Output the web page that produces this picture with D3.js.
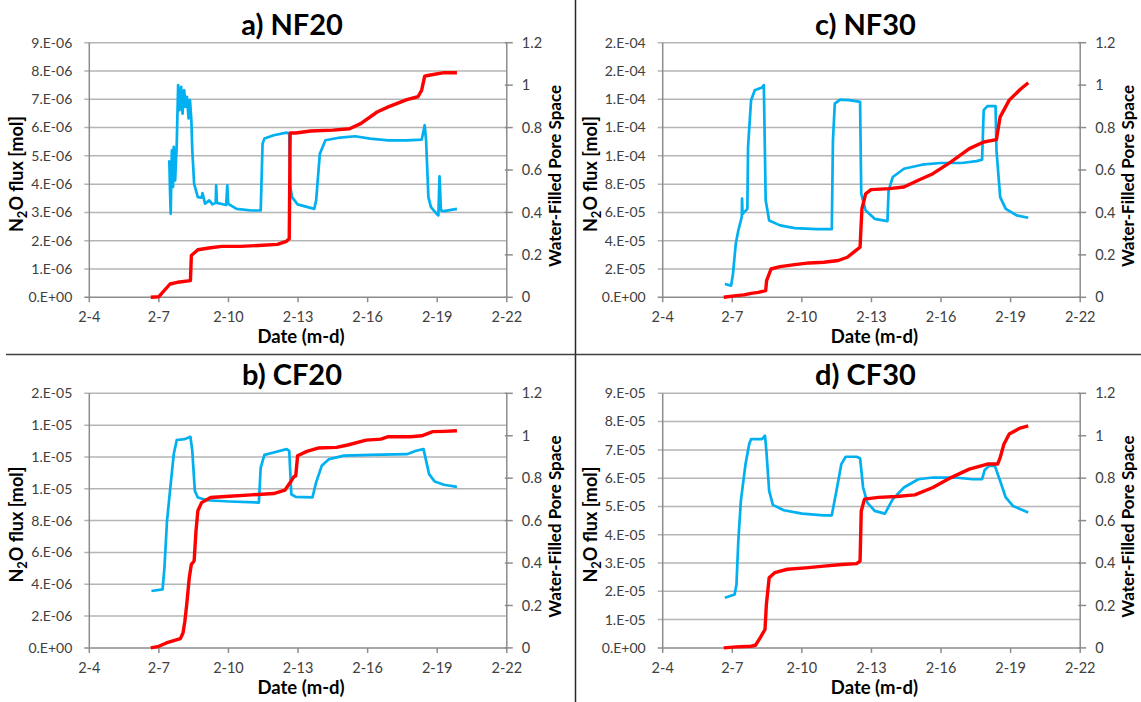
<!DOCTYPE html>
<html>
<head>
<meta charset="utf-8">
<script src="https://cdn.jsdelivr.net/npm/d3@7"></script>
<style>
  body { margin: 0; background: #fff; }
  text { font-family: Lato, "Open Sans", sans-serif; }
</style>
</head>
<body>
<div id="chart"></div>
<script>
// days are day-of-February (2-7 = 7), flux in mol, WFPS as fraction
const nf20Flux = [[6.65,0],[7.00,0.02e-6],[7.48,0.47e-6],[7.80,0.53e-6],[8.36,0.59e-6],[8.40,1.48e-6],[8.68,1.68e-6],[9.23,1.75e-6],[9.71,1.80e-6],[10.51,1.80e-6],[11.31,1.83e-6],[12.11,1.87e-6],[12.50,1.98e-6],[12.62,2.07e-6],[12.66,5.81e-6],[12.90,5.81e-6],[13.54,5.88e-6],[14.50,5.91e-6],[15.22,5.96e-6],[15.70,6.14e-6],[16.41,6.55e-6],[16.89,6.73e-6],[17.69,6.99e-6],[18.17,7.09e-6],[18.33,7.32e-6],[18.46,7.82e-6],[18.65,7.85e-6],[19.29,7.94e-6],[19.85,7.94e-6]];
const nf20Wfps = [[7.45,0.646],[7.48,0.504],[7.51,0.394],[7.56,0.693],[7.61,0.520],[7.64,0.709],[7.70,0.551],[7.77,0.724],[7.83,1.000],[7.89,0.882],[7.96,0.992],[8.02,0.866],[8.09,0.976],[8.15,0.898],[8.21,0.945],[8.28,0.843],[8.34,0.929],[8.40,0.835],[8.44,0.693],[8.52,0.535],[8.68,0.472],[8.85,0.470],[8.88,0.491],[8.99,0.441],[9.17,0.457],[9.31,0.438],[9.45,0.445],[9.47,0.528],[9.50,0.445],[9.90,0.435],[9.95,0.528],[9.99,0.440],[10.35,0.417],[10.99,0.409],[11.39,0.409],[11.47,0.724],[11.55,0.748],[11.95,0.764],[12.50,0.776],[12.62,0.772],[12.67,0.520],[12.74,0.472],[12.98,0.438],[13.70,0.417],[13.78,0.457],[13.94,0.677],[14.18,0.740],[14.82,0.753],[15.46,0.759],[16.10,0.748],[16.89,0.740],[17.69,0.740],[18.33,0.743],[18.46,0.811],[18.52,0.740],[18.62,0.472],[18.73,0.425],[18.97,0.394],[19.05,0.386],[19.10,0.570],[19.16,0.409],[19.29,0.406],[19.85,0.417]];

const cf20Flux = [[6.65,0],[7.00,0.10e-6],[7.32,0.31e-6],[7.64,0.46e-6],[7.93,0.59e-6],[8.04,0.94e-6],[8.12,1.68e-6],[8.20,2.73e-6],[8.31,4.41e-6],[8.40,5.25e-6],[8.52,5.46e-6],[8.60,7.35e-6],[8.68,8.61e-6],[8.84,9.13e-6],[9.23,9.45e-6],[10.03,9.53e-6],[10.99,9.62e-6],[11.95,9.70e-6],[12.43,9.91e-6],[12.66,10.39e-6],[12.82,10.75e-6],[12.90,10.81e-6],[12.98,12.07e-6],[13.38,12.35e-6],[13.86,12.56e-6],[14.66,12.60e-6],[15.14,12.75e-6],[15.94,13.06e-6],[16.57,13.12e-6],[16.89,13.27e-6],[17.85,13.27e-6],[18.33,13.33e-6],[18.81,13.59e-6],[19.29,13.61e-6],[19.85,13.65e-6]];
const cf20Wfps = [[6.68,0.268],[7.16,0.276],[7.24,0.378],[7.35,0.598],[7.48,0.740],[7.64,0.913],[7.77,0.980],[8.12,0.984],[8.36,0.995],[8.44,0.929],[8.55,0.740],[8.68,0.709],[9.07,0.696],[10.03,0.690],[11.31,0.685],[11.39,0.850],[11.55,0.910],[11.95,0.921],[12.51,0.937],[12.62,0.929],[12.71,0.724],[12.90,0.712],[13.62,0.709],[13.78,0.780],[14.02,0.858],[14.34,0.890],[14.98,0.906],[16.10,0.910],[17.69,0.913],[18.09,0.929],[18.41,0.937],[18.65,0.819],[18.89,0.784],[19.29,0.769],[19.85,0.759]];

const nf30Flux = [[6.63,0],[7.18,1.2e-6],[7.50,1.7e-6],[7.81,2.8e-6],[8.12,3.5e-6],[8.44,4.7e-6],[8.48,11.8e-6],[8.67,20.0e-6],[9.06,21.7e-6],[9.69,23.1e-6],[10.32,24.3e-6],[10.95,24.8e-6],[11.57,26.0e-6],[11.96,28.3e-6],[12.36,33.5e-6],[12.51,35.4e-6],[12.55,49.6e-6],[12.59,62.6e-6],[12.75,73.2e-6],[12.98,76.1e-6],[13.77,76.8e-6],[14.40,78.0e-6],[15.02,82.7e-6],[15.65,87.4e-6],[16.43,95.7e-6],[17.22,105.1e-6],[17.84,109.8e-6],[18.39,111.5e-6],[18.44,116.9e-6],[18.55,127.6e-6],[18.94,139.4e-6],[19.41,146.9e-6],[19.76,151.7e-6]];
const nf30Wfps = [[6.68,0.063],[6.95,0.055],[7.03,0.110],[7.15,0.252],[7.26,0.315],[7.37,0.362],[7.41,0.380],[7.42,0.465],[7.44,0.400],[7.46,0.394],[7.65,0.417],[7.68,0.709],[7.81,0.929],[7.97,0.976],[8.28,0.989],[8.36,1.000],[8.44,0.457],[8.59,0.362],[9.06,0.339],[9.69,0.326],[10.63,0.321],[11.29,0.321],[11.34,0.740],[11.42,0.913],[11.65,0.932],[12.04,0.929],[12.51,0.921],[12.56,0.488],[12.75,0.409],[13.14,0.370],[13.69,0.359],[13.74,0.504],[13.92,0.567],[14.40,0.606],[15.18,0.625],[15.96,0.633],[16.90,0.633],[17.53,0.642],[17.77,0.649],[17.84,0.882],[18.00,0.901],[18.35,0.901],[18.39,0.693],[18.55,0.472],[18.79,0.417],[19.26,0.386],[19.76,0.375]];

const cf30Flux = [[6.63,0],[7.18,0.35e-6],[7.81,0.59e-6],[8.00,0.94e-6],[8.20,3.54e-6],[8.41,6.5e-6],[8.47,15.35e-6],[8.59,24.8e-6],[8.83,26.6e-6],[9.38,27.8e-6],[10.16,28.3e-6],[10.95,28.9e-6],[11.73,29.5e-6],[12.36,29.8e-6],[12.51,30.7e-6],[12.56,48.4e-6],[12.70,52.6e-6],[13.30,53.2e-6],[14.08,53.5e-6],[14.87,54.1e-6],[15.65,56.7e-6],[16.43,60.2e-6],[17.22,63.2e-6],[18.00,65.0e-6],[18.44,65.0e-6],[18.55,67.3e-6],[18.71,72.0e-6],[18.94,75.6e-6],[19.41,77.7e-6],[19.76,78.5e-6]];
const cf30Wfps = [[6.68,0.236],[7.10,0.252],[7.18,0.299],[7.26,0.504],[7.37,0.693],[7.57,0.866],[7.73,0.961],[7.81,0.984],[8.28,0.984],[8.41,1.000],[8.47,0.929],[8.59,0.740],[8.75,0.674],[9.22,0.649],[10.01,0.633],[10.95,0.625],[11.29,0.625],[11.49,0.740],[11.70,0.866],[11.89,0.901],[12.36,0.901],[12.51,0.894],[12.64,0.756],[12.82,0.685],[13.14,0.646],[13.58,0.633],[13.92,0.701],[14.40,0.756],[15.02,0.795],[15.65,0.803],[16.59,0.803],[17.37,0.795],[17.77,0.795],[17.88,0.838],[18.08,0.858],[18.32,0.858],[18.55,0.787],[18.79,0.709],[19.10,0.669],[19.76,0.638]];

const dayTicks = [4, 7, 10, 13, 16, 19, 22];
const wfpsTicks = [0, 0.2, 0.4, 0.6, 0.8, 1, 1.2];
const nf20Ticks = [0, 1e-6, 2e-6, 3e-6, 4e-6, 5e-6, 6e-6, 7e-6, 8e-6, 9e-6];
const cf20Ticks = [0, 2e-6, 4e-6, 6e-6, 8e-6, 1e-5, 1.2e-5, 1.4e-5, 1.6e-5];
const nf30Ticks = [0, 2e-5, 4e-5, 6e-5, 8e-5, 1e-4, 1.2e-4, 1.4e-4, 1.6e-4, 1.8e-4];
const cf30Ticks = [0, 1e-5, 2e-5, 3e-5, 4e-5, 5e-5, 6e-5, 7e-5, 8e-5, 9e-5];

const width = 1141, height = 702;
const W = 417.5, H = 254.6;

const panels = [
  { title: 'a) NF20', x: 89.3, y: 42.7, flux: nf20Flux, wfps: nf20Wfps, ticks: nf20Ticks },
  { title: 'c) NF30', x: 662.7, y: 42.7, flux: nf30Flux, wfps: nf30Wfps, ticks: nf30Ticks },
  { title: 'b) CF20', x: 89.3, y: 393.3, flux: cf20Flux, wfps: cf20Wfps, ticks: cf20Ticks },
  { title: 'd) CF30', x: 662.7, y: 393.3, flux: cf30Flux, wfps: cf30Wfps, ticks: cf30Ticks }
];

// Excel-style "0.E+00" number format
function fmtE(v) {
  if (v === 0) return '0.E+00';
  let e = Math.floor(Math.log10(v) + 1e-9);
  let m = Math.round(v / Math.pow(10, e));
  if (m === 10) { m = 1; e++; }
  return m + '.E' + (e < 0 ? '-' : '+') + String(Math.abs(e)).padStart(2, '0');
}

const svg = d3.select('#chart')
  .append('svg')
  .attr('width', width)
  .attr('height', height);

// panel separators
svg.append('line')
  .attr('x1', 575.5).attr('x2', 575.5).attr('y1', 0).attr('y2', height)
  .attr('stroke', '#262626').attr('stroke-width', 1.5);
svg.append('line')
  .attr('x1', 6).attr('x2', 1141).attr('y1', 354.5).attr('y2', 354.5)
  .attr('stroke', '#404040').attr('stroke-width', 1.5);

const gridColor = '#b5b5b5';
const axisColor = '#8c8c8c';
const tickText = '#404040';

panels.forEach(p => {
  const g = svg.append('g');
  const x = d3.scaleLinear().domain([4, 22]).range([p.x, p.x + W]);
  const yL = d3.scaleLinear().domain([0, d3.max(p.ticks)]).range([p.y + H, p.y]);
  const yR = d3.scaleLinear().domain([0, 1.2]).range([p.y + H, p.y]);

  // gridlines and left ticks
  g.selectAll('.grid').data(p.ticks).enter().append('line')
    .attr('x1', p.x - 5).attr('x2', p.x + W)
    .attr('y1', d => yL(d)).attr('y2', d => yL(d))
    .attr('stroke', (d, i) => i === 0 ? axisColor : gridColor)
    .attr('stroke-width', 1.5);

  g.selectAll('.ltxt').data(p.ticks).enter().append('text')
    .attr('x', p.x - 17).attr('y', d => yL(d)).attr('dy', '0.35em')
    .attr('text-anchor', 'end').attr('font-size', 14).attr('fill', tickText)
    .text(fmtE);

  // axis lines
  g.append('line').attr('x1', p.x).attr('x2', p.x).attr('y1', p.y).attr('y2', p.y + H)
    .attr('stroke', axisColor).attr('stroke-width', 1.5);
  g.append('line').attr('x1', p.x + W).attr('x2', p.x + W).attr('y1', p.y).attr('y2', p.y + H)
    .attr('stroke', axisColor).attr('stroke-width', 1.5);

  // x ticks
  g.selectAll('.xt').data(dayTicks).enter().append('line')
    .attr('x1', d => x(d)).attr('x2', d => x(d))
    .attr('y1', p.y + H).attr('y2', p.y + H + 5)
    .attr('stroke', axisColor).attr('stroke-width', 1.5);
  g.selectAll('.xtxt').data(dayTicks).enter().append('text')
    .attr('x', d => x(d)).attr('y', p.y + H + 25)
    .attr('text-anchor', 'middle').attr('font-size', 14.5).attr('fill', tickText)
    .text(d => '2-' + d);

  // right ticks
  g.selectAll('.rt').data(wfpsTicks).enter().append('line')
    .attr('x1', p.x + W - 2).attr('x2', p.x + W + 6)
    .attr('y1', d => yR(d)).attr('y2', d => yR(d))
    .attr('stroke', axisColor).attr('stroke-width', 1.5);
  g.selectAll('.rtxt').data(wfpsTicks).enter().append('text')
    .attr('x', p.x + W + 15).attr('y', d => yR(d)).attr('dy', '0.35em')
    .attr('font-size', 14.5).attr('fill', tickText)
    .text(d => d);

  // titles and axis labels
  g.append('text')
    .attr('x', p.x + W / 2 - 6).attr('y', p.y - 8)
    .attr('text-anchor', 'middle').attr('font-size', 29).attr('font-weight', 'bold')
    .text(p.title);

  g.append('text')
    .attr('x', p.x + W / 2 + 3).attr('y', p.y + H + 46)
    .attr('text-anchor', 'middle').attr('font-size', 18.5).attr('font-weight', 'bold')
    .text('Date (m-d)');

  const yl = g.append('text')
    .attr('transform', `translate(${p.x - 66},${p.y + H / 2 + 4}) rotate(-90)`)
    .attr('text-anchor', 'middle').attr('font-size', 18).attr('font-weight', 'bold');
  yl.append('tspan').text('N');
  yl.append('tspan').attr('font-size', 13).attr('dy', 4).text('2');
  yl.append('tspan').attr('dy', -4).text('O flux [mol]');

  g.append('text')
    .attr('transform', `translate(${p.x + W + 54},${p.y + H / 2 + 6}) rotate(-90)`)
    .attr('text-anchor', 'middle').attr('font-size', 17).attr('font-weight', 'bold')
    .text('Water-Filled Pore Space');

  // series
  const lineR = d3.line().x(d => x(d[0])).y(d => yR(d[1]));
  const lineL = d3.line().x(d => x(d[0])).y(d => yL(d[1]));

  g.append('path').datum(p.wfps)
    .attr('d', lineR).attr('fill', 'none')
    .attr('stroke', '#00b0f0').attr('stroke-width', 2.7)
    .attr('stroke-linejoin', 'round');

  g.append('path').datum(p.flux)
    .attr('d', lineL).attr('fill', 'none')
    .attr('stroke', '#ff0000').attr('stroke-width', 3.4)
    .attr('stroke-linejoin', 'round');
});
</script>
</body>
</html>
